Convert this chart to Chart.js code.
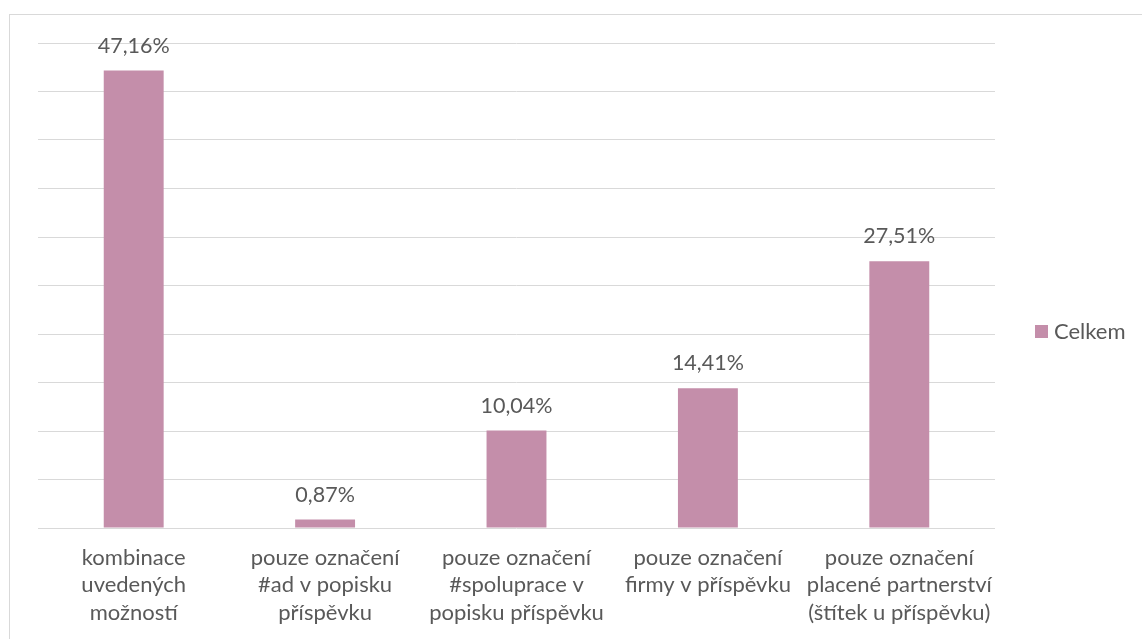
<!DOCTYPE html>
<html>
<head>
<meta charset="utf-8">
<script src="https://cdn.jsdelivr.net/npm/chart.js@4.4.1/dist/chart.umd.min.js"></script>
<style>
  html, body { margin: 0; padding: 0; background: #ffffff; }
  #wrap { position: relative; width: 1142px; height: 639px; overflow: hidden; }
  #frame { position: absolute; left: 9px; top: 14px; width: 1200px; height: 700px;
           border: 1px solid #d9d9d9; box-sizing: border-box; }
  canvas { position: absolute; left: 0; top: 0; }
</style>
</head>
<body>
<div id="wrap">
  <div id="frame"></div>
  <canvas id="c" width="1142" height="639"></canvas>
</div>
<script>
const categories = [
  ["kombinace", "uvedených", "možností"],
  ["pouze označení", "#ad v popisku", "příspěvku"],
  ["pouze označení", "#spoluprace v", "popisku příspěvku"],
  ["pouze označení", "firmy v příspěvku"],
  ["pouze označení", "placené partnerství", "(štítek u příspěvku)"]
];
const seriesName = "Celkem";
const values = [47.16, 0.87, 10.04, 14.41, 27.51];
const yMin = 0, yMax = 50, yStep = 5;

const FONT = "Lato, 'Open Sans', sans-serif";
const TEXT = "#595959";
const BAR = "#c48eaa";
const GRID = "#d9d9d9";

const fmt = v => v.toFixed(2).replace(".", ",") + "%";

// value labels above each bar
const valueLabels = {
  id: "valueLabels",
  afterDatasetsDraw(chart) {
    const ctx = chart.ctx;
    const meta = chart.getDatasetMeta(0);
    ctx.save();
    ctx.font = "21.5px " + FONT;
    ctx.fillStyle = TEXT;
    ctx.textAlign = "center";
    ctx.textBaseline = "alphabetic";
    meta.data.forEach((el, i) => {
      ctx.fillText(fmt(values[i]), el.x, el.y - 18);
    });
    ctx.restore();
  }
};

// legend on the right, vertically centred on the plot
const sideLegend = {
  id: "sideLegend",
  afterDraw(chart) {
    const ctx = chart.ctx;
    const a = chart.chartArea;
    const cy = Math.round((a.top + a.bottom) / 2) + 46;
    ctx.save();
    ctx.fillStyle = BAR;
    ctx.fillRect(1035, cy - 7, 13, 13);
    ctx.font = "22px " + FONT;
    ctx.fillStyle = TEXT;
    ctx.textAlign = "left";
    ctx.textBaseline = "middle";
    ctx.fillText(chart.data.datasets[0].label, 1054, cy);
    ctx.restore();
  }
};

new Chart(document.getElementById("c"), {
  type: "bar",
  data: {
    labels: categories,
    datasets: [{
      label: seriesName,
      data: values,
      backgroundColor: BAR,
      borderWidth: 0,
      barPercentage: 0.313,
      categoryPercentage: 1.0
    }]
  },
  options: {
    responsive: false,
    animation: false,
    devicePixelRatio: 1,
    layout: { padding: { left: 38, right: 147, top: 43, bottom: 0 } },
    plugins: { legend: { display: false }, tooltip: { enabled: false } },
    scales: {
      x: {
        grid: { display: false, drawTicks: false },
        border: { display: false },
        ticks: {
          color: TEXT,
          font: { family: FONT, size: 22, lineHeight: 27.5 / 22 },
          padding: 16,
          maxRotation: 0,
          autoSkip: false
        },
        afterFit(scale) { scale.height = 639 - 528; }
      },
      y: {
        min: yMin, max: yMax,
        grid: { color: GRID, lineWidth: 1, drawTicks: false },
        border: { display: false },
        ticks: { display: false, stepSize: yStep },
        afterFit(scale) { scale.width = 0; }
      }
    }
  },
  plugins: [valueLabels, sideLegend]
});
</script>
</body>
</html>
